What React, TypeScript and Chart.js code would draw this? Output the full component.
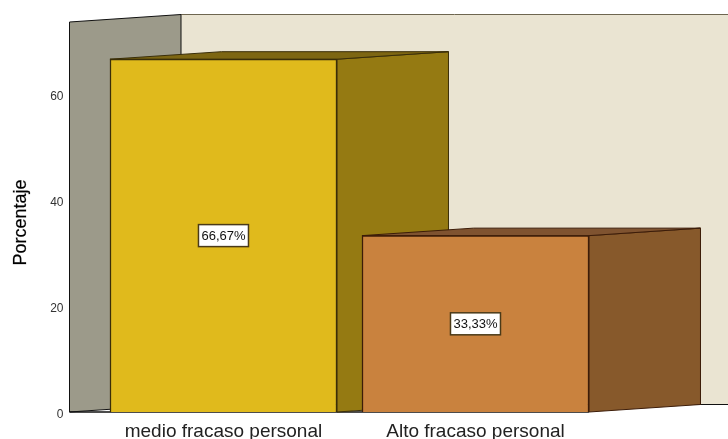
import React, { useEffect, useRef } from "react";
import { Chart, registerables } from "chart.js";

Chart.register(...registerables);

const categories = ["medio fracaso personal", "Alto fracaso personal"];
const categoryPositions = [1, 2];
const percentages = [66.67, 33.33];
const dataLabels = ["66,67%", "33,33%"];
const yTicks = [0, 20, 40, 60];
const yMax = 73.7;
const xMin = 0.389;
const xMax = 3.002;
const yTitle = "Porcentaje";

const frontColors = ["#E0BA1C", "#C9823E"];
const sideColors = ["#957A12", "#87592B"];
const topColors = ["#7D6612", "#7F5330"];
const edgeColors = ["#3A2E08", "#3C1C08"];
const leftWallColor = "#9C9A8A";
const backWallColor = "#EAE4D2";
const DEPTH_X = 111.5;
const DEPTH_Y = 7.5;

function poly(ctx: CanvasRenderingContext2D, pts: number[][], fill: string | null, stroke: string | null, lw = 1) {
  ctx.beginPath();
  pts.forEach((p, i) => (i ? ctx.lineTo(p[0], p[1]) : ctx.moveTo(p[0], p[1])));
  ctx.closePath();
  if (fill) {
    ctx.fillStyle = fill;
    ctx.fill();
  }
  if (stroke) {
    ctx.strokeStyle = stroke;
    ctx.lineWidth = lw;
    ctx.stroke();
  }
}

const depthPlugin = {
  id: "depth",
  beforeDatasetsDraw(chart: any) {
    const { ctx, chartArea: a } = chart;
    const meta = chart.getDatasetMeta(0);
    const bx = a.left + DEPTH_X;
    ctx.save();
    // back wall
    ctx.fillStyle = backWallColor;
    ctx.fillRect(bx, a.top - DEPTH_Y, a.right - bx, a.bottom - a.top);
    ctx.strokeStyle = "#6E6650";
    ctx.lineWidth = 1;
    ctx.beginPath();
    ctx.moveTo(bx, a.top - DEPTH_Y);
    ctx.lineTo(a.right, a.top - DEPTH_Y);
    ctx.stroke();
    // left wall
    poly(
      ctx,
      [
        [a.left, a.top],
        [bx, a.top - DEPTH_Y],
        [bx, a.bottom - DEPTH_Y],
        [a.left, a.bottom],
      ],
      leftWallColor,
      "#111"
    );
    // floor edges
    ctx.strokeStyle = "#111";
    ctx.beginPath();
    ctx.moveTo(bx, a.bottom - DEPTH_Y);
    ctx.lineTo(a.right, a.bottom - DEPTH_Y);
    ctx.stroke();
    ctx.lineWidth = 1.5;
    ctx.beginPath();
    ctx.moveTo(a.left, a.bottom);
    ctx.lineTo(meta.data[meta.data.length - 1].getProps(["x"]).x + 113.5, a.bottom);
    ctx.stroke();
    // side and top faces
    meta.data.forEach((bar: any, i: number) => {
      const { x, y, base, width } = bar.getProps(["x", "y", "base", "width"]);
      const l = x - width / 2;
      const r = x + width / 2;
      poly(
        ctx,
        [
          [r, y],
          [r + DEPTH_X, y - DEPTH_Y],
          [r + DEPTH_X, base - DEPTH_Y],
          [r, base],
        ],
        sideColors[i],
        edgeColors[i]
      );
      poly(
        ctx,
        [
          [l, y],
          [l + DEPTH_X, y - DEPTH_Y],
          [r + DEPTH_X, y - DEPTH_Y],
          [r, y],
        ],
        topColors[i],
        edgeColors[i]
      );
    });
    ctx.restore();
  },
  afterDatasetsDraw(chart: any) {
    const { ctx, chartArea: a } = chart;
    const meta = chart.getDatasetMeta(0);
    ctx.save();
    ctx.font = '13px "Liberation Sans"';
    ctx.textAlign = "center";
    ctx.textBaseline = "middle";
    meta.data.forEach((bar: any, i: number) => {
      const { x, y, base } = bar.getProps(["x", "y", "base"]);
      const cy = (y + base) / 2;
      const w = 50;
      const h = 22;
      ctx.fillStyle = "#FFFFFF";
      ctx.fillRect(x - w / 2, cy - h / 2, w, h);
      ctx.strokeStyle = "#4A3A18";
      ctx.lineWidth = 1.5;
      ctx.strokeRect(x - w / 2, cy - h / 2, w, h);
      ctx.fillStyle = "#111";
      ctx.fillText(dataLabels[i], x, cy + 0.5);
    });
    ctx.restore();
    // axis title, a little below the scale's middle as in the source
    ctx.save();
    ctx.translate(21.5, (a.top + a.bottom) / 2 + 5.5);
    ctx.rotate(-Math.PI / 2);
    ctx.font = '18px "Liberation Sans"';
    ctx.fillStyle = "#000";
    ctx.textAlign = "center";
    ctx.textBaseline = "middle";
    ctx.fillText(yTitle, 0, 0);
    ctx.strokeStyle = "rgba(0,0,0,0.5)";
    ctx.lineWidth = 0.4;
    ctx.strokeText(yTitle, 0, 0);
    ctx.restore();
  },
};

export default function App() {
  const ref = useRef<HTMLCanvasElement>(null);
  useEffect(() => {
    const chart = new Chart(ref.current as HTMLCanvasElement, {
      type: "bar",
      data: {
        datasets: [
          {
            data: categoryPositions.map((x, i) => ({ x, y: percentages[i] })),
            backgroundColor: frontColors,
            borderColor: edgeColors,
            borderWidth: 1.5,
            barThickness: 227,
          },
        ],
      },
      options: {
        responsive: false,
        animation: false,
        layout: { padding: { top: 22, left: 0, right: 0, bottom: 0 } },
        plugins: { legend: { display: false }, tooltip: { enabled: false } },
        scales: {
          x: {
            type: "linear",
            offset: false,
            min: xMin,
            max: xMax,
            grid: { display: false, drawTicks: false },
            border: { display: false },
            afterBuildTicks(axis: any) {
              axis.ticks = categoryPositions.map((value) => ({ value }));
            },
            afterFit(axis: any) {
              axis.height = 27;
            },
            ticks: {
              autoSkip: false,
              maxRotation: 0,
              padding: 8,
              color: "#222",
              font: { family: '"Liberation Sans"', size: 19 },
              callback: (v: any) => categories[categoryPositions.indexOf(v)] ?? "",
            },
          },
          y: {
            min: 0,
            max: yMax,
            grid: { display: false, drawTicks: false },
            border: { display: false },
            afterBuildTicks(axis: any) {
              axis.ticks = yTicks.map((value) => ({ value }));
            },
            afterFit(axis: any) {
              axis.width = 69.5;
            },
            ticks: {
              padding: 6,
              color: "#333",
              font: { family: '"Liberation Sans"', size: 12, lineHeight: "5px" },
              callback: (v: any) => ["", String(v)],
            },
          },
        },
      },
      plugins: [depthPlugin],
    } as any);
    return () => chart.destroy();
  }, []);
  return (
    <div style={{ position: "absolute", left: 0, top: 0, width: 728, height: 439, background: "#fff" }}>
      <canvas ref={ref} width={728} height={439} style={{ display: "block" }} />
    </div>
  );
}
